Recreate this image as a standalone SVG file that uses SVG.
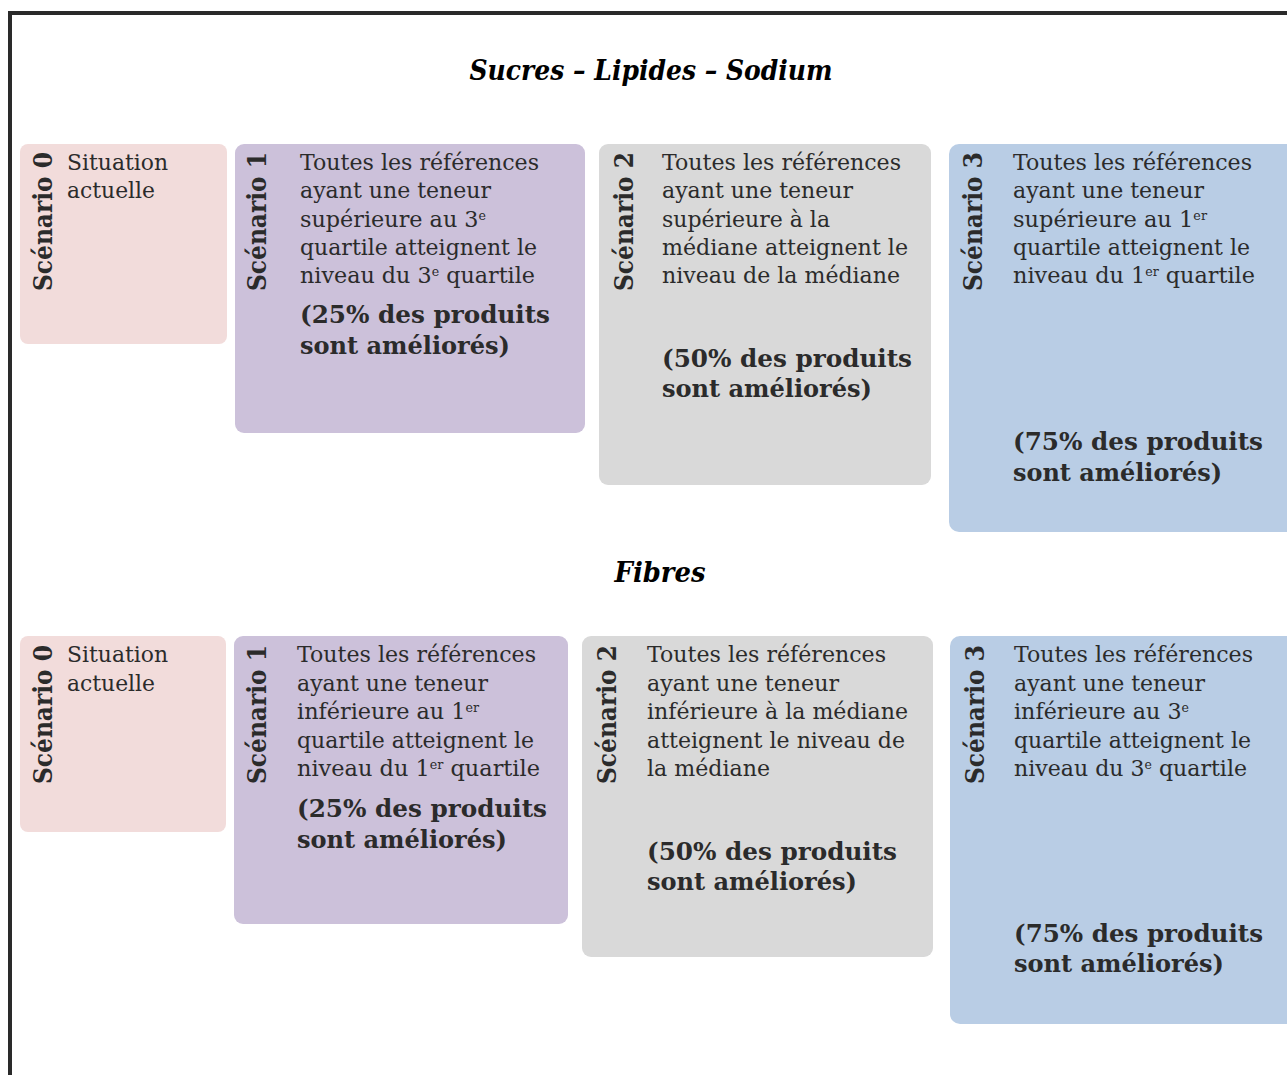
<svg xmlns="http://www.w3.org/2000/svg" width="1287" height="1075" viewBox="0 0 1287 1075">
<style>
.t{font-family:"DejaVu Serif","Liberation Serif",serif;font-size:23px;fill:#2b2b2b}
.b{font-family:"DejaVu Serif","Liberation Serif",serif;font-size:24px;font-weight:bold;fill:#2b2b2b}
.v{font-family:"DejaVu Serif","Liberation Serif",serif;font-size:26px;font-weight:bold;fill:#2b2b2b}
.h{font-family:"DejaVu Serif","Liberation Serif",serif;font-size:27px;font-weight:bold;font-style:italic;fill:#000;text-anchor:middle}
.sup{font-size:13px}
.s0{fill:#f2dcdb}.s1{fill:#ccc1da}.s2{fill:#d9d9d9}.s3{fill:#b9cde5}
</style>
<rect width="1287" height="1075" fill="#fff"/>
<path d="M10,1075 V13 H1287" fill="none" stroke="#2a2a2a" stroke-width="4"/>
<text class="h" x="651" y="80" textLength="363" lengthAdjust="spacingAndGlyphs">Sucres – Lipides – Sodium</text>
<text class="h" x="660" y="582" textLength="91" lengthAdjust="spacingAndGlyphs">Fibres</text>

<g id="top-s0">
<rect class="s0" x="20" y="144" width="207" height="200" rx="8"/>
<text class="v" transform="translate(52,291) rotate(-90)" textLength="139" lengthAdjust="spacingAndGlyphs">Scénario 0</text>
<text class="t" x="67" y="170" textLength="101" lengthAdjust="spacingAndGlyphs">Situation</text>
<text class="t" x="67" y="198" textLength="88" lengthAdjust="spacingAndGlyphs">actuelle</text>
</g>
<g id="top-s1">
<rect class="s1" x="235" y="144" width="350" height="289" rx="9"/>
<text class="v" transform="translate(266,291) rotate(-90)" textLength="139" lengthAdjust="spacingAndGlyphs">Scénario 1</text>
<text class="t" x="300" y="170" textLength="239" lengthAdjust="spacingAndGlyphs">Toutes les références</text>
<text class="t" x="300" y="198" textLength="191" lengthAdjust="spacingAndGlyphs">ayant une teneur</text>
<text class="t" x="300" y="227" textLength="186" lengthAdjust="spacingAndGlyphs">supérieure au 3<tspan class="sup" dy="-7">e</tspan></text>
<text class="t" x="300" y="255" textLength="237" lengthAdjust="spacingAndGlyphs">quartile atteignent le</text>
<text class="t" x="300" y="283" textLength="235" lengthAdjust="spacingAndGlyphs">niveau du 3<tspan class="sup" dy="-7">e</tspan><tspan dy="7"> quartile</tspan></text>
<text class="b" x="300" y="323" textLength="250" lengthAdjust="spacingAndGlyphs">(25% des produits</text>
<text class="b" x="300" y="354" textLength="210" lengthAdjust="spacingAndGlyphs">sont améliorés)</text>
</g>
<g id="top-s2">
<rect class="s2" x="599" y="144" width="332" height="341" rx="9"/>
<text class="v" transform="translate(633,291) rotate(-90)" textLength="139" lengthAdjust="spacingAndGlyphs">Scénario 2</text>
<text class="t" x="662" y="170" textLength="239" lengthAdjust="spacingAndGlyphs">Toutes les références</text>
<text class="t" x="662" y="198" textLength="191" lengthAdjust="spacingAndGlyphs">ayant une teneur</text>
<text class="t" x="662" y="227" textLength="168" lengthAdjust="spacingAndGlyphs">supérieure à la</text>
<text class="t" x="662" y="255" textLength="246" lengthAdjust="spacingAndGlyphs">médiane atteignent le</text>
<text class="t" x="662" y="283" textLength="238" lengthAdjust="spacingAndGlyphs">niveau de la médiane</text>
<text class="b" x="662" y="367" textLength="250" lengthAdjust="spacingAndGlyphs">(50% des produits</text>
<text class="b" x="662" y="397" textLength="210" lengthAdjust="spacingAndGlyphs">sont améliorés)</text>
</g>
<g id="top-s3">
<rect class="s3" x="949" y="144" width="348" height="388" rx="10"/>
<text class="v" transform="translate(982,291) rotate(-90)" textLength="139" lengthAdjust="spacingAndGlyphs">Scénario 3</text>
<text class="t" x="1013" y="170" textLength="239" lengthAdjust="spacingAndGlyphs">Toutes les références</text>
<text class="t" x="1013" y="198" textLength="191" lengthAdjust="spacingAndGlyphs">ayant une teneur</text>
<text class="t" x="1013" y="227" textLength="194" lengthAdjust="spacingAndGlyphs">supérieure au 1<tspan class="sup" dy="-7">er</tspan></text>
<text class="t" x="1013" y="255" textLength="237" lengthAdjust="spacingAndGlyphs">quartile atteignent le</text>
<text class="t" x="1013" y="283" textLength="242" lengthAdjust="spacingAndGlyphs">niveau du 1<tspan class="sup" dy="-7">er</tspan><tspan dy="7"> quartile</tspan></text>
<text class="b" x="1013" y="450" textLength="250" lengthAdjust="spacingAndGlyphs">(75% des produits</text>
<text class="b" x="1013" y="481" textLength="209" lengthAdjust="spacingAndGlyphs">sont améliorés)</text>
</g>

<g id="bot-s0">
<rect class="s0" x="20" y="636" width="206" height="196" rx="8"/>
<text class="v" transform="translate(52,784) rotate(-90)" textLength="139" lengthAdjust="spacingAndGlyphs">Scénario 0</text>
<text class="t" x="67" y="662" textLength="101" lengthAdjust="spacingAndGlyphs">Situation</text>
<text class="t" x="67" y="691" textLength="88" lengthAdjust="spacingAndGlyphs">actuelle</text>
</g>
<g id="bot-s1">
<rect class="s1" x="234" y="636" width="334" height="288" rx="9"/>
<text class="v" transform="translate(266,784) rotate(-90)" textLength="139" lengthAdjust="spacingAndGlyphs">Scénario 1</text>
<text class="t" x="297" y="662" textLength="239" lengthAdjust="spacingAndGlyphs">Toutes les références</text>
<text class="t" x="297" y="691" textLength="191" lengthAdjust="spacingAndGlyphs">ayant une teneur</text>
<text class="t" x="297" y="719" textLength="182" lengthAdjust="spacingAndGlyphs">inférieure au 1<tspan class="sup" dy="-7">er</tspan></text>
<text class="t" x="297" y="748" textLength="237" lengthAdjust="spacingAndGlyphs">quartile atteignent le</text>
<text class="t" x="297" y="776" textLength="243" lengthAdjust="spacingAndGlyphs">niveau du 1<tspan class="sup" dy="-7">er</tspan><tspan dy="7"> quartile</tspan></text>
<text class="b" x="297" y="817" textLength="250" lengthAdjust="spacingAndGlyphs">(25% des produits</text>
<text class="b" x="297" y="848" textLength="210" lengthAdjust="spacingAndGlyphs">sont améliorés)</text>
</g>
<g id="bot-s2">
<rect class="s2" x="582" y="636" width="351" height="321" rx="9"/>
<text class="v" transform="translate(616,784) rotate(-90)" textLength="139" lengthAdjust="spacingAndGlyphs">Scénario 2</text>
<text class="t" x="647" y="662" textLength="239" lengthAdjust="spacingAndGlyphs">Toutes les références</text>
<text class="t" x="647" y="691" textLength="192" lengthAdjust="spacingAndGlyphs">ayant une teneur</text>
<text class="t" x="647" y="719" textLength="261" lengthAdjust="spacingAndGlyphs">inférieure à la médiane</text>
<text class="t" x="647" y="748" textLength="258" lengthAdjust="spacingAndGlyphs">atteignent le niveau de</text>
<text class="t" x="647" y="776" textLength="123" lengthAdjust="spacingAndGlyphs">la médiane</text>
<text class="b" x="647" y="860" textLength="250" lengthAdjust="spacingAndGlyphs">(50% des produits</text>
<text class="b" x="647" y="890" textLength="210" lengthAdjust="spacingAndGlyphs">sont améliorés)</text>
</g>
<g id="bot-s3">
<rect class="s3" x="950" y="636" width="347" height="388" rx="10"/>
<text class="v" transform="translate(984,784) rotate(-90)" textLength="139" lengthAdjust="spacingAndGlyphs">Scénario 3</text>
<text class="t" x="1014" y="662" textLength="239" lengthAdjust="spacingAndGlyphs">Toutes les références</text>
<text class="t" x="1014" y="691" textLength="191" lengthAdjust="spacingAndGlyphs">ayant une teneur</text>
<text class="t" x="1014" y="719" textLength="175" lengthAdjust="spacingAndGlyphs">inférieure au 3<tspan class="sup" dy="-7">e</tspan></text>
<text class="t" x="1014" y="748" textLength="237" lengthAdjust="spacingAndGlyphs">quartile atteignent le</text>
<text class="t" x="1014" y="776" textLength="233" lengthAdjust="spacingAndGlyphs">niveau du 3<tspan class="sup" dy="-7">e</tspan><tspan dy="7"> quartile</tspan></text>
<text class="b" x="1014" y="942" textLength="249" lengthAdjust="spacingAndGlyphs">(75% des produits</text>
<text class="b" x="1014" y="972" textLength="210" lengthAdjust="spacingAndGlyphs">sont améliorés)</text>
</g>
</svg>
